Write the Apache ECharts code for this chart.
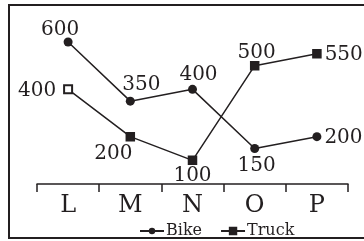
<!DOCTYPE html>
<html><head><meta charset="utf-8">
<script src="https://cdn.jsdelivr.net/npm/echarts@6/dist/echarts.min.js"></script>
<style>html,body{margin:0;padding:0;background:#fff}#c{width:364px;height:241px}</style>
</head><body><div id="c"></div>
<script>
var categories = ['L', 'M', 'N', 'O', 'P'];
var bikeValues = [600, 350, 400, 150, 200];
var truckValues = [400, 200, 100, 500, 550];

var bikeLabelPos = ['top', 'top', 'top', 'bottom', 'right'];
var bikeLabelOff = [[-8, 6], [11, 2], [6, 4], [2, -1], [-1, 1]];
var truckLabelPos = ['left', 'bottom', 'bottom', 'top', 'right'];
var truckLabelOff = [[-3, 1], [-17, -2], [0, -3], [2, 6], [-1, 1]];

var font = 'DejaVu Serif';
function build(vals, pos, off, firstSym) {
  return vals.map(function (v, i) {
    var d = { value: v, label: { position: pos[i], offset: off[i] } };
    if (i === 0 && firstSym) d.symbol = firstSym;
    return d;
  });
}
var chart = echarts.init(document.getElementById('c'));
chart.setOption({
  animation: false,
  backgroundColor: '#fff',
  grid: { left: 37, right: 16, top: 42, bottom: 57 },
  graphic: [{
    type: 'rect', silent: true,
    shape: { x: 9, y: 5, width: 400, height: 233 },
    style: { fill: 'none', stroke: '#231f20', lineWidth: 2 }
  }],
  legend: {
    left: 139, top: 223, padding: 0, itemWidth: 24, itemHeight: 8, itemGap: 18,
    textStyle: { fontFamily: font, fontSize: 16, color: '#231f20', padding: [0, 0, 0, -3] },
    data: ['Bike', 'Truck']
  },
  xAxis: {
    type: 'category', data: categories, boundaryGap: true,
    axisLine: { lineStyle: { color: '#231f20', width: 1.5 } },
    axisTick: { show: true, length: 8, lineStyle: { color: '#231f20', width: 1.5 } },
    axisLabel: { fontFamily: font, fontSize: 24, color: '#231f20', margin: 10 }
  },
  yAxis: { type: 'value', min: 0, max: 600, show: false, splitLine: { show: false } },
  series: [{
    name: 'Bike', type: 'line', data: build(bikeValues, bikeLabelPos, bikeLabelOff),
    symbol: 'circle', symbolSize: 9,
    itemStyle: { color: '#231f20' },
    lineStyle: { color: '#231f20', width: 1.5 },
    label: { show: true, fontFamily: font, fontSize: 20, color: '#231f20', distance: 4 }
  }, {
    name: 'Truck', type: 'line', data: build(truckValues, truckLabelPos, truckLabelOff, 'emptyRect'),
    symbol: 'rect', symbolSize: 8,
    itemStyle: { color: '#231f20', borderColor: '#231f20', borderWidth: 1.5 },
    lineStyle: { color: '#231f20', width: 1.5 },
    label: { show: true, fontFamily: font, fontSize: 20, color: '#231f20', distance: 4 }
  }]
});
</script></body></html>
